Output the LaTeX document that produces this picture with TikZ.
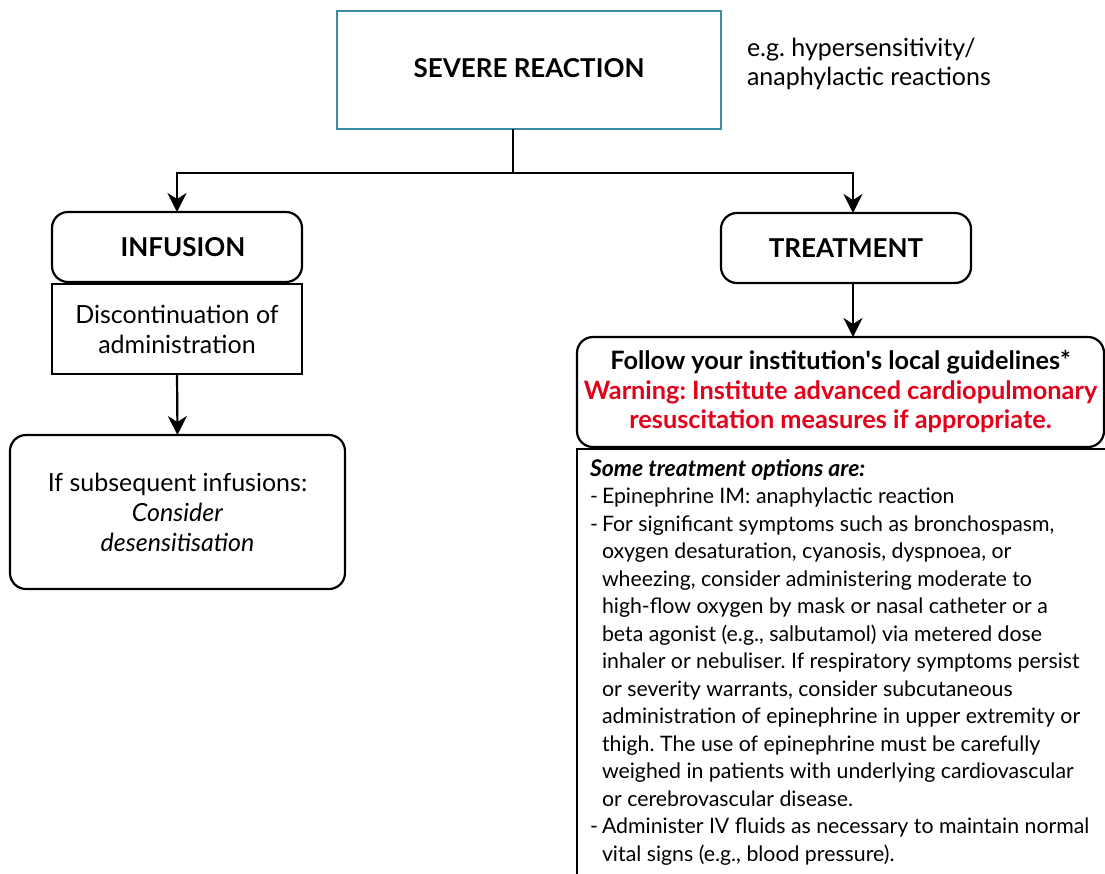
\documentclass[tikz,border=0pt]{standalone}
\usepackage{fontspec}
\setmainfont{Lato}
\usetikzlibrary{arrows.meta}
\definecolor{tealb}{HTML}{3A8BA3}
\definecolor{warnred}{HTML}{E2001A}
\begin{document}
\frenchspacing
\begin{tikzpicture}[x=1pt,y=-1pt,
  every node/.style={inner sep=0pt, outer sep=0pt},
  box/.style={draw, line width=2.2pt, align=center},
  rbox/.style={box, rounded corners=16pt},
  arr/.style={line width=2.2pt, -{Stealth[length=19pt,width=19pt,inset=6pt]}},
  ln/.style={line width=2.2pt},
  body/.style={font=\fontsize{25}{30}\selectfont},
  small/.style={font=\fontsize{21.3}{27.5}\selectfont},
  head/.style={font=\fontsize{26}{30}\selectfont\bfseries}]
\useasboundingbox (0,0) rectangle (1105,873);
\clip (0,0) rectangle (1105,873);

% top
\node[box, draw=tealb, minimum width=384pt, minimum height=118pt, head] (sev) at (529,70) {\raisebox{4pt}{SEVERE REACTION}};
\node[anchor=north west, align=left, font=\fontsize{25}{29.5}\selectfont] (eg) at (747,38) {e.g. hypersensitivity/\\anaphylactic reactions};

% left branch
\node[rbox, minimum width=250pt, minimum height=70pt, head] (inf) at (177,247) {\hspace*{12pt}INFUSION};
\node[box, minimum width=250pt, minimum height=90pt, body] (disc) at (177,329) {Discontinuation of\\administration};
\node[rbox, minimum width=335pt, minimum height=154pt, body] (subs) at (177.5,512) {If subsequent infusions:\\\textit{Consider}\\\textit{desensitisation}};

% right branch
\node[rbox, minimum width=250pt, minimum height=70pt, head] (treat) at (846,248) {TREATMENT};
\node[rbox, minimum width=527pt, minimum height=110pt, font=\fontsize{25.3}{29.5}\selectfont\bfseries] (guide) at (840.5,392)
  {Follow your institution\textquotesingle s local guidelines*\\\textcolor{warnred}{Warning: Institute advanced cardiopulmonary}\\\textcolor{warnred}{resuscitation measures if appropriate.}};
\node[box, anchor=north west, minimum width=560pt, minimum height=460pt] (optbox) at (577,449) {};
\node[anchor=north west, align=left, small] (opts) at (590,459) {%
{\fontsize{23}{27.5}\selectfont\textbf{\textit{Some treatment options are:}}}\\
\makebox[12pt][l]{-}Epinephrine IM: anaphylactic reaction\\
\makebox[12pt][l]{-}For significant symptoms such as bronchospasm,\\
\hspace*{12pt}oxygen desaturation, cyanosis, dyspnoea, or\\
\hspace*{12pt}wheezing, consider administering moderate to\\
\hspace*{12pt}high-flow oxygen by mask or nasal catheter or a\\
\hspace*{12pt}beta agonist (e.g., salbutamol) via metered dose\\
\hspace*{12pt}inhaler or nebuliser. If respiratory symptoms persist\\
\hspace*{12pt}or severity warrants, consider subcutaneous\\
\hspace*{12pt}administration of epinephrine in upper extremity or\\
\hspace*{12pt}thigh. The use of epinephrine must be carefully\\
\hspace*{12pt}weighed in patients with underlying cardiovascular\\
\hspace*{12pt}or cerebrovascular disease.\\
\makebox[12pt][l]{-}Administer IV fluids as necessary to maintain normal\\
\hspace*{12pt}vital signs (e.g., blood pressure).};

% connectors
\coordinate (split) at (513,173);
\draw[ln] (sev.south -| split) -- (split);
\draw[arr] (split) -| (inf.north);
\draw[arr] (split) -| ([xshift=7pt]treat.north);
\draw[arr] (disc.south) -- (subs.north);
\draw[arr] ([xshift=7pt]treat.south) -- ([xshift=7pt]treat.south |- guide.north);
\end{tikzpicture}
\end{document}
